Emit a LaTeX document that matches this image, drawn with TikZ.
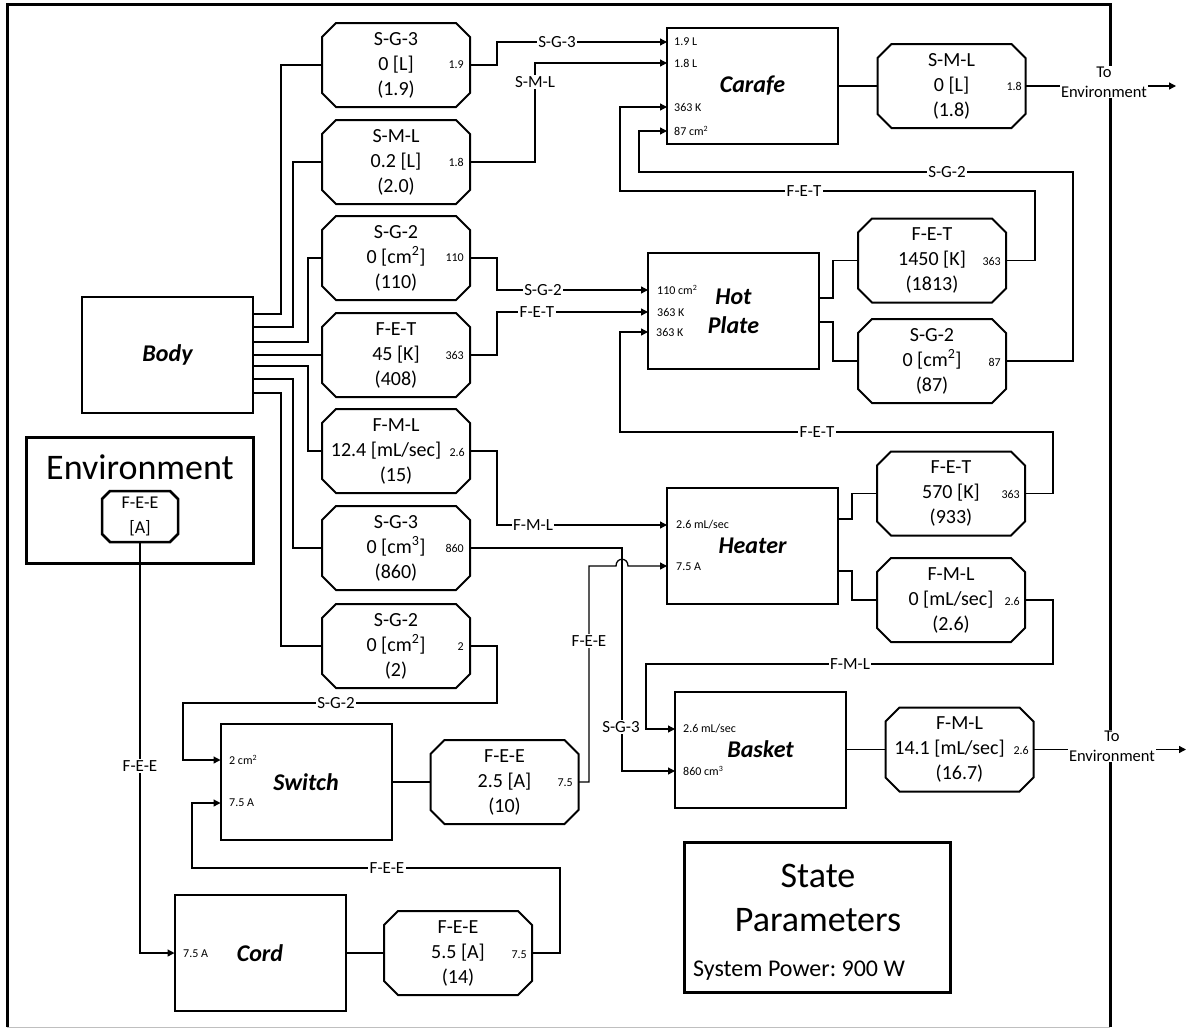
\documentclass[tikz,border=0pt]{standalone}
\usepackage{fontspec}
\setmainfont{Carlito}
\usetikzlibrary{arrows.meta}

\newcommand\octfont{\fontsize{20}{25}\selectfont}
\newcommand\bnfont{\fontsize{24}{29}\selectfont\bfseries\itshape}
\newcommand\lblfont{\fontsize{17}{19}\selectfont}
\newcommand\prtfont{\fontsize{12}{14}\selectfont}
\newcommand\bigfont{\fontsize{36}{45}\selectfont}
\newcommand\octshape[3]{%
  \draw[line width=#3] ([xshift=#2]#1.north west) -- ([xshift=-#2]#1.north east) -- ([yshift=-#2]#1.north east) -- ([yshift=#2]#1.south east) -- ([xshift=-#2]#1.south east) -- ([xshift=#2]#1.south west) -- ([yshift=#2]#1.south west) -- ([yshift=-#2]#1.north west) -- cycle;}
\frenchspacing

\begin{document}
\begin{tikzpicture}[x=1pt,y=-1pt,
  blk/.style={draw, line width=2pt, minimum width=171pt, minimum height=116pt, inner sep=0pt, outer sep=0pt, font=\bnfont, align=center},
  oct/.style={inner sep=0pt, outer sep=0pt, minimum width=148pt, minimum height=84pt, align=center, font=\octfont},
  conn/.style={line width=1.3pt},
  arr/.style={conn, -{Triangle[length=7pt,width=7pt]}},
  lbl/.style={fill=white, inner sep=1.5pt, font=\lblfont},
  iport/.style={inner sep=0pt, anchor=west, font=\prtfont},
  oport/.style={inner sep=0pt, anchor=east, font=\prtfont},
  thickbox/.style={draw, line width=3pt, inner sep=0pt, outer sep=0pt},
  toenv/.style={fill=white, inner sep=1pt, align=center, font=\fontsize{16.5}{20}\selectfont}
]
\useasboundingbox (0,0) rectangle (1188,1028);
\fill[white] (0,0) rectangle (1188,1028);

% frame
\draw[line width=3pt] (7,1027) -- (7,4) -- (1110,4) -- (1110,1027);
\draw[gray!50, line width=1pt] (7,1027) -- (1110,1027);

% blocks
\node[blk] (body) at (167.5,354.5) {Body};
\node[blk] (car) at (752.5,86) {Carafe};
\node[blk] (hp) at (733.5,311) {Hot\\Plate};
\node[blk] (heat) at (752.5,545.5) {Heater};
\node[blk] (bask) at (760.5,749.5) {Basket};
\node[blk] (sw) at (306,782) {Switch};
\node[blk] (cord) at (260,953) {Cord};

% environment
\node[thickbox, minimum width=227pt, minimum height=126pt] (envbox) at (139.5,500) {};
\node[font=\bigfont, anchor=base] (envt) at (140,479) {Environment};
\node[inner sep=0pt, outer sep=0pt, minimum width=76pt, minimum height=51pt, align=center, font=\fontsize{18}{25}\selectfont] (envo) at (140,516.5) {F-E-E\\{[A]}};
\octshape{envo}{8pt}{2.5pt}

% state parameters
\node[thickbox, minimum width=266pt, minimum height=150pt] (state) at (817,917) {};
\node[font=\bigfont, anchor=base] (st1) at (818,887) {State};
\node[font=\bigfont, anchor=base] (st2) at (818,931) {Parameters};
\node[font=\fontsize{24}{29}\selectfont, anchor=base west, inner sep=0pt] (st3) at (693,976) {System Power: 900 W};

% octagons
\node[oct] (o1) at (396,65) {S-G-3\\0 [L]\\(1.9)};
\node[oct] (o2) at (396,162) {S-M-L\\0.2 [L]\\(2.0)};
\node[oct] (o3) at (396,258) {S-G-2\\0 [cm\textsuperscript{2}]\\(110)};
\node[oct] (o4) at (396,355) {F-E-T\\45 [K]\\(408)};
\node[oct] (o5) at (396,451) {F-M-L\\\hbox{12.4 [mL/sec]\kern20pt}\\(15)};
\node[oct] (o6) at (396,548) {S-G-3\\0 [cm\textsuperscript{3}]\\(860)};
\node[oct] (o7) at (396,646) {S-G-2\\0 [cm\textsuperscript{2}]\\(2)};
\node[oct] (co) at (951.5,86) {S-M-L\\0 [L]\\(1.8)};
\node[oct] (hp1) at (932,260.5) {F-E-T\\1450 [K]\\(1813)};
\node[oct] (hp2) at (932,361) {S-G-2\\0 [cm\textsuperscript{2}]\\(87)};
\node[oct] (h1) at (951,493.5) {F-E-T\\570 [K]\\(933)};
\node[oct] (h2) at (951,600) {F-M-L\\0 [mL/sec]\\(2.6)};
\node[oct] (b1) at (959.5,749.5) {F-M-L\\\hbox{14.1 [mL/sec]\kern20pt}\\(16.7)};
\node[oct] (s1) at (504.5,782) {F-E-E\\2.5 [A]\\(10)};
\node[oct] (c1) at (458,953) {F-E-E\\5.5 [A]\\(14)};
\foreach \n in {o1,o2,o3,o4,o5,o6,o7,co,hp1,hp2,h1,h2,b1,s1,c1} {\octshape{\n}{14pt}{2pt}}

% output port labels
\node[oport] (q1) at (464,65) {1.9};
\node[oport] (q2) at (464,162) {1.8};
\node[oport] (q3) at (464,258) {110};
\node[oport] (q4) at (464,355) {363};
\node[oport] (q5) at (465,452) {2.6};
\node[oport] (q6) at (464,548) {860};
\node[oport] (q7) at (464,647) {2};
\node[oport] (q8) at (1022,86) {1.8};
\node[oport] (q9) at (1001,261) {363};
\node[oport] (q10) at (1001,362) {87};
\node[oport] (q11) at (1020,494) {363};
\node[oport] (q12) at (1020,601) {2.6};
\node[oport] (q13) at (1029,750) {2.6};
\node[oport] (q14) at (573,783) {7.5};
\node[oport] (q15) at (527,955) {7.5};

% input port labels
\node[iport] (i1) at (674,42) {1.9 L};
\node[iport] (i2) at (674,63) {1.8 L};
\node[iport] (i3) at (674,107) {363 K};
\node[iport] (i4) at (674,131) {87 cm\textsuperscript{2}};
\node[iport] (i5) at (657,290) {110 cm\textsuperscript{2}};
\node[iport] (i6) at (657,312) {363 K};
\node[iport] (i7) at (656,332) {363 K};
\node[iport] (i8) at (676,525) {2.6 mL/sec};
\node[iport] (i9) at (676,567) {7.5 A};
\node[iport] (i10) at (683,729) {2.6 mL/sec};
\node[iport] (i11) at (683,771) {860 cm\textsuperscript{3}};
\node[iport] (i12) at (229,760) {2 cm\textsuperscript{2}};
\node[iport] (i13) at (229,803) {7.5 A};
\node[iport] (i14) at (183,954) {7.5 A};

% body to octagons
\draw[conn] (body.east |- 0,314) -- (281,314) -- (281,65) -- (o1.west);
\draw[conn] (body.east |- 0,327) -- (293,327) -- (293,162) -- (o2.west);
\draw[conn] (body.east |- 0,342) -- (308,342) -- (308,258) -- (o3.west);
\draw[conn] (body.east |- 0,355) -- (o4.west);
\draw[conn] (body.east |- 0,366) -- (308,366) -- (308,451) -- (o5.west);
\draw[conn] (body.east |- 0,379) -- (293,379) -- (293,548) -- (o6.west);
\draw[conn] (body.east |- 0,393) -- (281,393) -- (281,646) -- (o7.west);

% octagons to blocks
\draw[arr] (o1.east) -- (497,65) -- (497,42) -- (car.west |- 0,42);
\draw[arr] (o2.east) -- (535,162) -- (535,63) -- (car.west |- 0,63);
\draw[arr] (o3.east) -- (497,258) -- (497,290) -- (hp.west |- 0,290);
\draw[arr] (o4.east) -- (497,355) -- (497,312) -- (hp.west |- 0,312);
\draw[arr] (o5.east) -- (497,451) -- (497,525) -- (heat.west |- 0,525);
\draw[arr] (o6.east) -- (622,548) -- (622,771) -- (bask.west |- 0,771);
\draw[arr] (o7.east) -- (497,646) -- (497,703) -- (183,703) -- (183,760) -- (sw.west |- 0,760);

% carafe
\draw[conn] (car.east) -- (co.west);
% hot plate
\draw[conn] (hp.east |- 0,298) -- (833,298) -- (833,260.5) -- (hp1.west);
\draw[conn] (hp.east |- 0,322) -- (833,322) -- (833,361) -- (hp2.west);
\draw[arr] (hp1.east) -- (1035,260.5) -- (1035,191) -- (620,191) -- (620,107) -- (car.west |- 0,107);
\draw[arr] (hp2.east) -- (1073,361) -- (1073,172) -- (639,172) -- (639,131) -- (car.west |- 0,131);
% heater
\draw[conn] (heat.east |- 0,519) -- (852,519) -- (852,493.5) -- (h1.west);
\draw[conn] (heat.east |- 0,571) -- (852,571) -- (852,600) -- (h2.west);
\draw[arr] (h1.east) -- (1053,493.5) -- (1053,432) -- (620,432) -- (620,332) -- (hp.west |- 0,332);
\draw[arr] (h2.east) -- (1053,600) -- (1053,664) -- (646,664) -- (646,729) -- (bask.west |- 0,729);
% basket
\draw[conn] (bask.east |- 0,749.5) -- (b1.west);
% switch
\draw[conn] (sw.east) -- (s1.west);
\draw[arr] (s1.east) -- (589,782) -- (589,566) -- (616,566) .. controls (616,557) and (628,557) .. (628,566) -- (heat.west |- 0,566);
% cord
\draw[conn] (cord.east) -- (c1.west);
\draw[arr] (c1.east) -- (560,953) -- (560,868) -- (192,868) -- (192,803) -- (sw.west |- 0,803);
% environment
\draw[arr] (envo.south) -- (140,953) -- (cord.west |- 0,953);

% connector labels
\node[lbl] (l1) at (557,42) {S-G-3};
\node[lbl] (l2) at (535,82) {S-M-L};
\node[lbl] (l3) at (543,290) {S-G-2};
\node[lbl] (l4) at (537,312) {F-E-T};
\node[lbl] (l5) at (533,525) {F-M-L};
\node[lbl] (l6) at (621,727) {S-G-3};
\node[lbl] (l7) at (336,703) {S-G-2};
\node[lbl] (l8) at (804,191) {F-E-T};
\node[lbl] (l9) at (947,172) {S-G-2};
\node[lbl] (l10) at (817,432) {F-E-T};
\node[lbl] (l11) at (850,664) {F-M-L};
\node[lbl] (l12) at (589,641) {F-E-E};
\node[lbl] (l13) at (387,868) {F-E-E};
\node[lbl] (l14) at (140,766) {F-E-E};

% to environment
\node[toenv] (te1) at (1104,82) {To\\Environment};
\coordinate (e1) at (1176,86);
\draw[conn] (co.east) -- (te1.west |- co.east);
\draw[arr] (te1.east |- co.east) -- (e1);
\node[toenv] (te2) at (1112,746) {To\\Environment};
\coordinate (e2) at (1186,749.5);
\draw[conn] (b1.east) -- (te2.west |- b1.east);
\draw[arr] (te2.east |- b1.east) -- (e2);
\end{tikzpicture}
\end{document}
